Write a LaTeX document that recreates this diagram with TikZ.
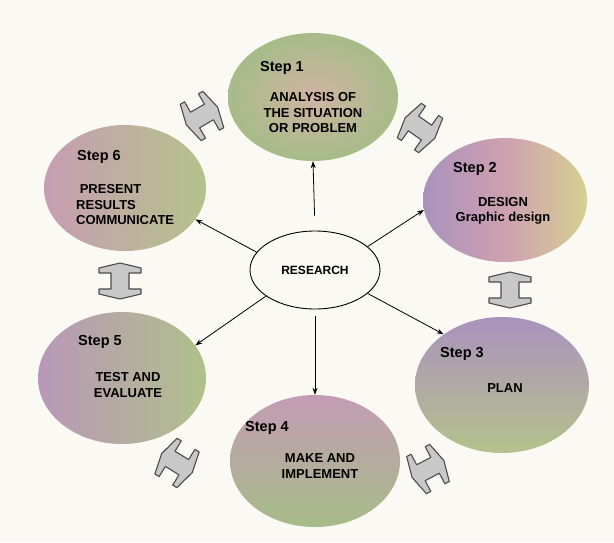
\documentclass[tikz,border=0pt]{standalone}
\usepackage{fontspec}
\setmainfont{Liberation Sans}
\usetikzlibrary{shapes.geometric,arrows.meta}
\definecolor{paper}{RGB}{251,249,243}
\definecolor{mgreen}{RGB}{166,188,136}
\definecolor{mpink}{RGB}{206,160,176}
\definecolor{mpurple}{RGB}{170,146,190}
\definecolor{myellow}{RGB}{214,208,146}
\definecolor{beamgray}{RGB}{200,200,200}
% double arrow between two steps: x, y, angle
\newcommand{\dblarrow}[3]{%
  \draw[dblarr,shift={(#1,#2)},rotate=#3] (18,0) -- (13,21) -- (8,21) -- (8,9)
    -- (-8,9) -- (-8,21) -- (-13,21) -- (-18,0) -- (-13,-21) -- (-8,-21)
    -- (-8,-9) -- (8,-9) -- (8,-21) -- (13,-21) -- cycle;}
\begin{document}
\begin{tikzpicture}[x=1pt,y=-1pt,
    stepbox/.style={ellipse,inner sep=0,draw=none},
    steplab/.style={anchor=west,inner sep=0,font=\bfseries\fontsize{14.5}{16}\selectfont},
    body/.style={inner sep=0,align=center,font=\bfseries\fontsize{13}{15.5}\selectfont},
    link/.style={-{Stealth[length=7pt,width=5pt]},line width=0.8pt,black},
    dblarr/.style={draw=black!70,line width=1.1pt,fill=beamgray,line join=round}]
  \fill[paper] (0,0) rectangle (614,542);
  \useasboundingbox (0,0) rectangle (614,542);

  % the six steps
  \node[stepbox,minimum width=170pt,minimum height=128pt,inner color=mpink!60!myellow,outer color=mgreen,shading=radial] (s1) at (313,97) {};
  \node[stepbox,minimum width=164pt,minimum height=124pt,left color=mpurple,right color=myellow,middle color=mpink] (s2) at (505,200) {};
  \node[stepbox,minimum width=174pt,minimum height=136pt,top color=mpurple,bottom color=mgreen!70!myellow] (s3) at (502,385) {};
  \node[stepbox,minimum width=170pt,minimum height=132pt,top color=mpink!70!mpurple,bottom color=mgreen] (s4) at (315,461) {};
  \node[stepbox,minimum width=168pt,minimum height=132pt,left color=mpurple!60!mpink,right color=mgreen!80!myellow] (s5) at (122,378) {};
  \node[stepbox,minimum width=162pt,minimum height=126pt,left color=mpink!80!mpurple,right color=mgreen!70!myellow] (s6) at (125,188) {};

  \node[steplab] (l1) at (260,68) {Step 1};
  \node[body] (t1) at (313,113) {ANALYSIS OF\\THE SITUATION\\OR PROBLEM};
  \node[steplab] (l2) at (453,169) {Step 2};
  \node[body] (t2) at (503,211) {DESIGN\\Graphic design};
  \node[steplab] (l3) at (440,354) {Step 3};
  \node[body] (t3) at (505,388) {PLAN};
  \node[steplab] (l4) at (245,428) {Step 4};
  \node[body] (t4) at (320,466) {MAKE AND\\IMPLEMENT};
  \node[steplab] (l5) at (78,342) {Step 5};
  \node[body] (t5) at (128,385) {TEST AND\\EVALUATE};
  \node[steplab] (l6) at (77,157) {Step 6};
  \node[body,align=left,anchor=west] (t6) at (76,205) {\ PRESENT\\RESULTS\\COMMUNICATE};

  % centre
  \node[ellipse,draw,line width=0.9pt,fill=paper,inner sep=0,minimum width=130pt,minimum height=78pt,
    font=\bfseries\fontsize{12}{14}\selectfont] (res) at (315,270) {RESEARCH};

  \draw[link,shorten <=15pt] (res.90) -- (s1.270);
  \draw[link] (res.24) -- (s2.187);
  \draw[link] (res.336) -- (s3.139);
  \draw[link,shorten <=7pt] (res.270) -- (s4.90);
  \draw[link] (res.208) -- (s5.24);
  \draw[link] (res.163) -- (s6.336);

  % arrows round the ring
  \dblarrow{202}{116}{30}
  \dblarrow{420}{128}{-35}
  \dblarrow{510}{290}{90}
  \dblarrow{428}{469}{28}
  \dblarrow{177}{463}{-32}
  \dblarrow{120}{281}{90}
\end{tikzpicture}
\end{document}
